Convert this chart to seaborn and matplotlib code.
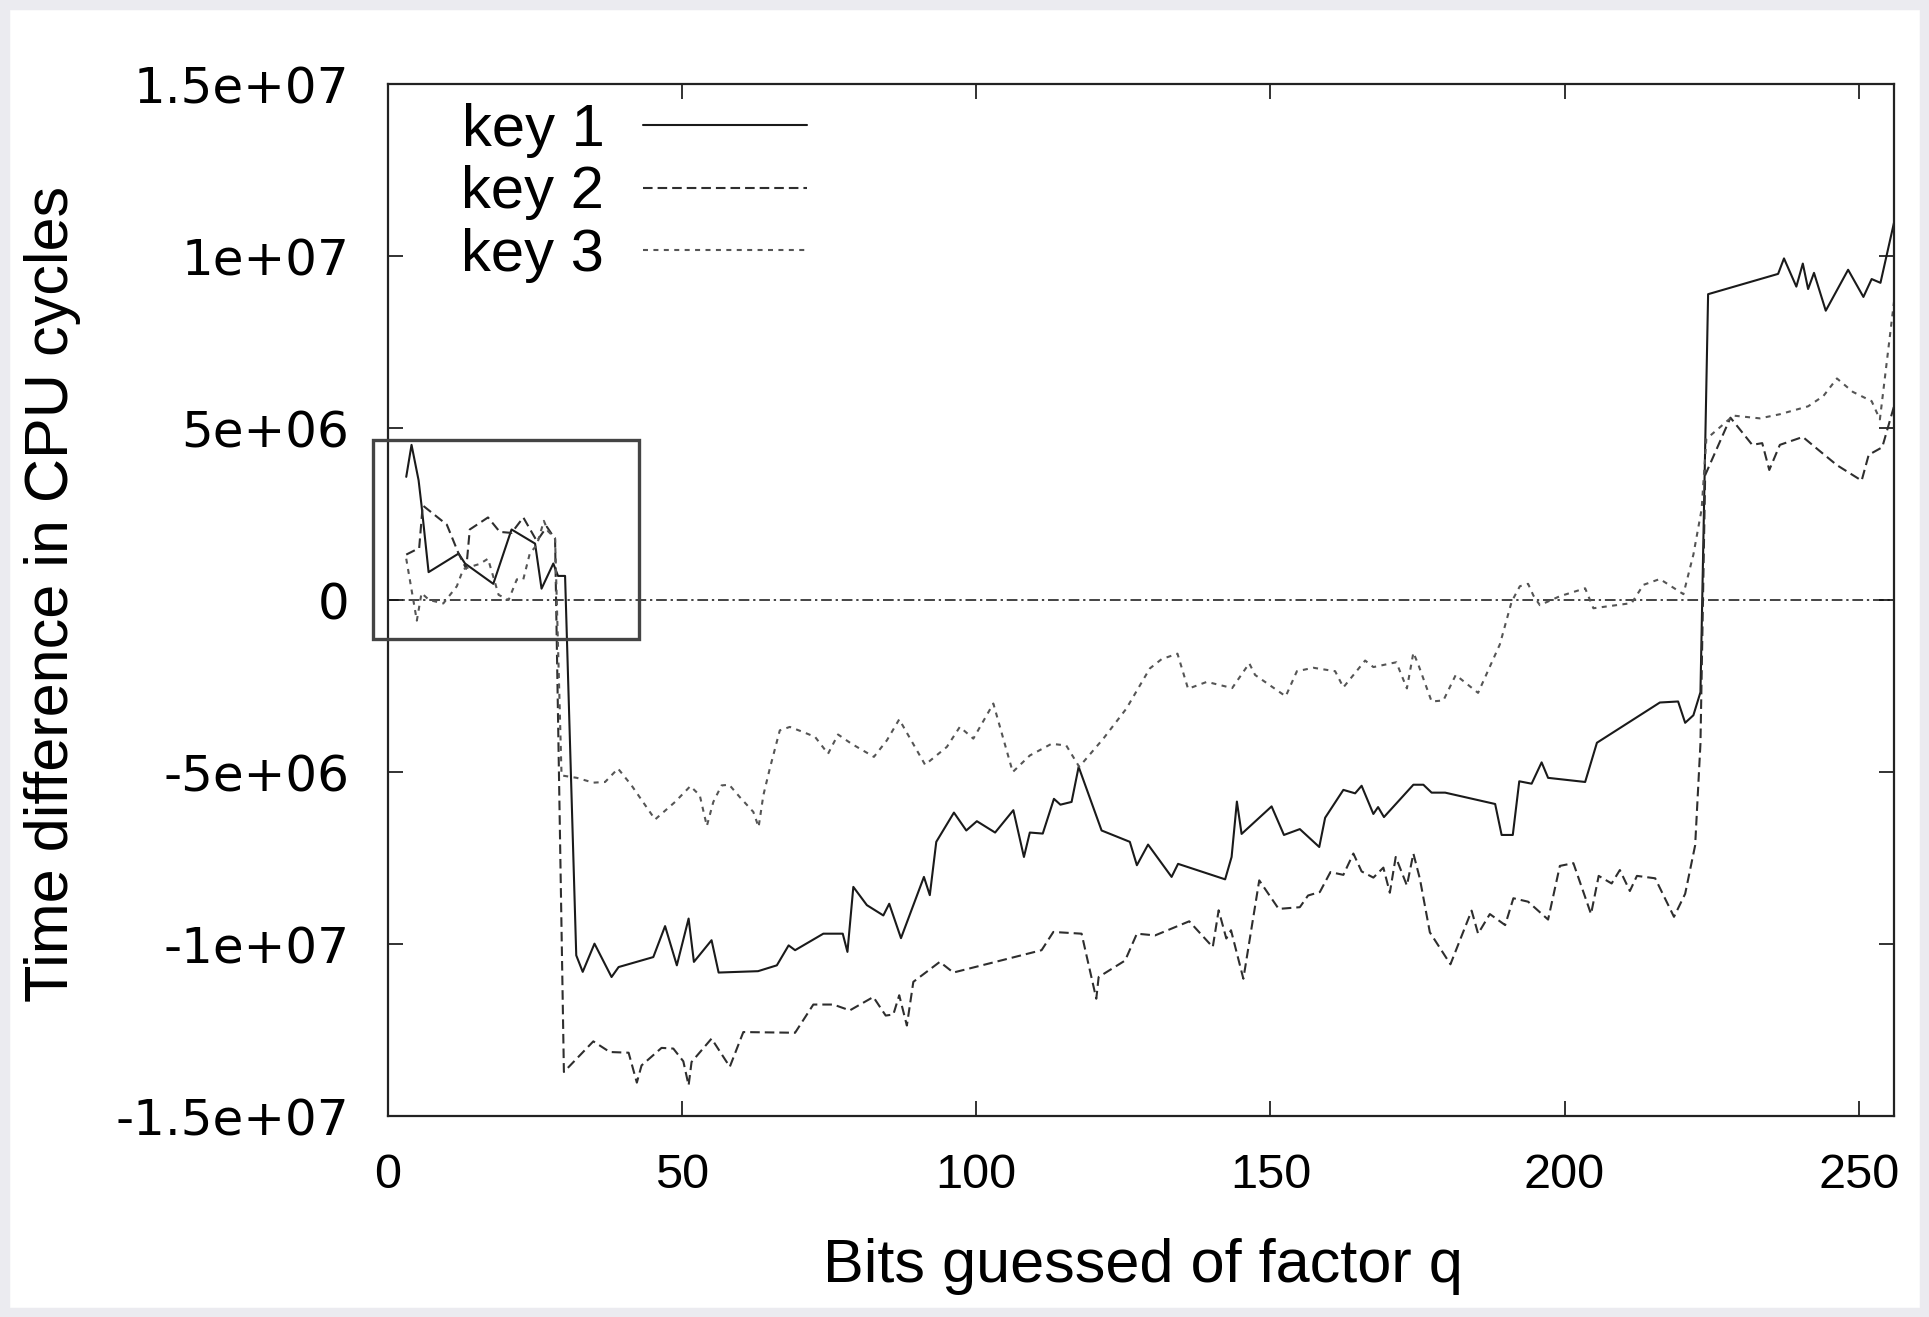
import matplotlib
matplotlib.use("Agg")
import matplotlib.pyplot as plt
from matplotlib.patches import Rectangle
from matplotlib.lines import Line2D
import seaborn as sns
import pandas as pd

# ---------------- data ----------------
key1_bits = [3.1, 4.0, 5.2, 5.7, 6.9, 12.0, 13.1, 17.9, 21.0, 25.0, 26.1, 28.1, 28.9, 30.1,
             32.0, 33.1, 35.1, 38.0, 39.2, 45.1, 47.1, 49.1, 51.1, 52.0, 55.0, 56.2, 62.9,
             66.1, 68.1, 69.2, 74.0, 77.3, 78.1, 79.1, 81.4, 84.2, 85.2, 87.2, 91.1, 92.1,
             93.2, 96.2, 98.3, 100.1, 103.2, 106.3, 108.1, 109.1, 111.3, 113.2, 114.3, 116.2,
             117.4, 121.3, 126.1, 127.3, 129.2, 133.2, 134.3, 142.3, 143.4, 144.3, 145.1,
             150.2, 152.3, 155.0, 158.3, 159.3, 162.4, 164.4, 165.5, 167.5, 168.3, 169.3,
             174.3, 176.0, 177.4, 179.7, 188.2, 189.3, 191.2, 192.3, 194.4, 196.1, 197.2,
             203.5, 205.5, 216.2, 219.3, 220.5, 221.9, 223.1, 224.4, 236.3, 237.3, 239.4,
             240.5, 241.4, 242.4, 244.4, 248.2, 250.8, 252.2, 253.7, 256.0]
key1_vals = [3.58e6, 4.51e6, 3.48e6, 2.75e6, 0.81e6, 1.35e6, 1.06e6, 0.47e6, 2.05e6, 1.64e6,
             0.33e6, 1.06e6, 0.70e6, 0.70e6,
             -10.33e6, -10.81e6, -9.99e6, -10.96e6, -10.67e6, -10.38e6, -9.48e6, -10.62e6,
             -9.26e6, -10.52e6, -9.89e6, -10.83e6, -10.79e6, -10.62e6, -10.04e6, -10.18e6,
             -9.70e6, -9.70e6, -10.23e6, -8.34e6, -8.87e6, -9.17e6, -8.83e6, -9.83e6,
             -8.05e6, -8.58e6, -7.03e6, -6.18e6, -6.70e6, -6.43e6, -6.76e6, -6.11e6,
             -7.47e6, -6.76e6, -6.79e6, -5.78e6, -5.95e6, -5.87e6, -4.85e6, -6.70e6,
             -7.03e6, -7.71e6, -7.11e6, -8.05e6, -7.67e6, -8.12e6, -7.47e6, -5.86e6,
             -6.80e6, -6.00e6, -6.83e6, -6.66e6, -7.18e6, -6.33e6, -5.52e6, -5.62e6,
             -5.40e6, -6.22e6, -6.02e6, -6.31e6, -5.37e6, -5.37e6, -5.60e6, -5.60e6,
             -5.93e6, -6.83e6, -6.83e6, -5.27e6, -5.34e6, -4.72e6, -5.17e6, -5.29e6,
             -4.15e6, -2.98e6, -2.95e6, -3.57e6, -3.35e6, -2.68e6, 8.89e6, 9.48e6, 9.93e6,
             9.11e6, 9.78e6, 9.04e6, 9.51e6, 8.41e6, 9.60e6, 8.81e6, 9.33e6, 9.22e6, 10.97e6]

key2_bits = [3.1, 5.3, 5.9, 10.0, 12.0, 13.3, 13.9, 17.0, 19.0, 21.0, 23.0, 25.3, 27.0, 28.4,
             29.9, 34.9, 37.7, 40.9, 42.3, 43.1, 46.5, 48.5, 50.2, 51.1, 51.6, 55.0, 58.1,
             60.4, 69.2, 72.3, 75.7, 78.5, 82.5, 84.6, 85.9, 86.9, 88.2, 89.3, 93.8, 96.1,
             111.1, 113.1, 117.9, 120.4, 120.8, 125.3, 127.3, 130.4, 136.2, 140.2, 141.2,
             142.5, 143.3, 145.4, 148.1, 151.4, 155.0, 156.4, 158.4, 160.2, 162.4, 164.1,
             165.5, 167.5, 169.2, 170.3, 171.3, 173.2, 174.3, 175.4, 177.1, 180.6, 184.2,
             185.3, 187.3, 189.9, 191.3, 193.8, 197.2, 199.2, 201.5, 204.5, 205.8, 208.0,
             209.4, 211.1, 212.3, 215.4, 218.6, 220.5, 222.2, 223.1, 223.9, 228.2, 231.9,
             233.6, 234.8, 236.6, 240.5, 243.1, 246.3, 250.5, 251.7, 254.0, 256.0]
key2_vals = [1.32e6, 1.51e6, 2.75e6, 2.19e6, 1.35e6, 0.91e6, 2.05e6, 2.40e6, 1.98e6, 1.95e6,
             2.40e6, 1.71e6, 2.13e6, 1.77e6,
             -13.72e6, -12.83e6, -13.14e6, -13.16e6, -14.03e6, -13.53e6, -13.02e6, -13.04e6,
             -13.41e6, -14.11e6, -13.43e6, -12.75e6, -13.57e6, -12.56e6, -12.58e6, -11.76e6,
             -11.76e6, -11.93e6, -11.54e6, -12.08e6, -12.05e6, -11.49e6, -12.37e6, -11.10e6,
             -10.52e6, -10.83e6, -10.18e6, -9.65e6, -9.70e6, -11.59e6, -10.96e6, -10.48e6,
             -9.70e6, -9.75e6, -9.34e6, -10.09e6, -9.02e6, -9.84e6, -9.60e6, -11.01e6,
             -8.15e6, -8.98e6, -8.93e6, -8.59e6, -8.49e6, -7.91e6, -7.99e6, -7.37e6,
             -7.89e6, -8.07e6, -7.78e6, -8.51e6, -7.47e6, -8.30e6, -7.37e6, -8.10e6,
             -9.66e6, -10.59e6, -9.03e6, -9.70e6, -9.13e6, -9.45e6, -8.67e6, -8.77e6,
             -9.29e6, -7.73e6, -7.65e6, -9.13e6, -8.02e6, -8.24e6, -7.85e6, -8.46e6,
             -8.02e6, -8.09e6, -9.21e6, -8.54e6, -7.13e6, -4.17e6, 3.63e6, 5.30e6, 4.51e6,
             4.56e6, 3.78e6, 4.51e6, 4.74e6, 4.37e6, 3.92e6, 3.47e6, 4.22e6, 4.44e6, 5.63e6]

key3_bits = [3.1, 4.0, 4.9, 5.7, 7.0, 9.4, 11.7, 12.8, 15.6, 17.0, 18.8, 20.5, 21.9, 23.0,
             24.1, 25.3, 26.5, 27.2, 28.4, 29.5, 32.1, 34.9, 36.9, 39.1, 41.4, 45.4, 48.8,
             51.4, 53.0, 54.2, 55.3, 56.7, 58.0, 59.8, 62.1, 63.0, 63.8, 64.9, 66.6, 68.3,
             70.6, 72.6, 74.8, 76.5, 78.8, 82.6, 84.8, 86.9, 91.3, 95.0, 97.2, 99.5, 102.9,
             106.2, 109.1, 112.8, 115.3, 117.5, 121.6, 125.5, 129.5, 131.5, 134.2, 136.0,
             139.2, 143.5, 146.4, 147.4, 152.6, 154.5, 157.3, 161.0, 162.4, 166.1, 167.5,
             171.4, 173.2, 174.3, 175.1, 177.4, 179.4, 181.5, 185.3, 189.0, 191.0, 192.4,
             193.8, 194.7, 195.8, 199.2, 203.5, 204.9, 211.4, 213.4, 216.2, 220.2, 221.9,
             223.3, 224.1, 228.7, 233.2, 236.6, 241.4, 244.0, 246.3, 249.0, 252.2, 253.6,
             256.0]
key3_vals = [1.20e6, 0.30e6, -0.60e6, 0.20e6, 0.00e6, -0.10e6, 0.40e6, 0.90e6, 1.05e6,
             1.20e6, 0.15e6, 0.00e6, 0.60e6, 0.60e6, 1.35e6, 1.60e6, 2.30e6, 2.00e6, 1.80e6,
             -5.10e6, -5.17e6, -5.31e6, -5.29e6, -4.90e6, -5.39e6, -6.38e6, -5.87e6, -5.41e6,
             -5.68e6, -6.57e6, -5.87e6, -5.39e6, -5.37e6, -5.73e6, -6.16e6, -6.60e6, -5.68e6,
             -4.90e6, -3.79e6, -3.69e6, -3.84e6, -3.98e6, -4.47e6, -3.91e6, -4.18e6,
             -4.56e6, -4.08e6, -3.47e6, -4.79e6, -4.27e6, -3.69e6, -4.03e6, -3.01e6,
             -5.00e6, -4.52e6, -4.18e6, -4.23e6, -4.85e6, -4.03e6, -3.16e6, -1.99e6,
             -1.72e6, -1.56e6, -2.58e6, -2.38e6, -2.56e6, -1.84e6, -2.18e6, -2.80e6,
             -2.07e6, -1.97e6, -2.07e6, -2.54e6, -1.76e6, -1.95e6, -1.81e6, -2.57e6,
             -1.53e6, -1.86e6, -2.95e6, -2.92e6, -2.18e6, -2.70e6, -1.29e6, -0.05e6,
             0.40e6, 0.47e6, 0.13e6, -0.15e6, 0.11e6, 0.34e6, -0.24e6, -0.09e6, 0.44e6,
             0.61e6, 0.17e6, 1.32e6, 2.64e6, 4.68e6, 5.36e6, 5.28e6, 5.40e6, 5.63e6,
             5.93e6, 6.44e6, 6.05e6, 5.78e6, 5.25e6, 8.67e6]

key_names = ["key 1", "key 2", "key 3"]
y_ticks = [-1.5e7, -1e7, -5e6, 0, 5e6, 1e7, 1.5e7]
y_tick_labels = ["-1.5e+07", "-1e+07", "-5e+06", "0", "5e+06", "1e+07", "1.5e+07"]
x_ticks = [0, 50, 100, 150, 200, 250]
x_tick_labels = ["0", "50", "100", "150", "200", "250"]

# ---------------- figure ----------------
sns.set_theme(style="white")
plt.rcParams["font.family"] = ["Liberation Sans", "DejaVu Sans"]

W, H = 1929, 1317
fig = plt.figure(figsize=(W / 100, H / 100), dpi=100, facecolor="white")
ax = fig.add_axes([388 / W, 1 - 1116 / H, (1894 - 388) / W, (1116 - 84) / H])

df = pd.concat([
    pd.DataFrame({"bit": key1_bits, "diff": key1_vals, "key": key_names[0]}),
    pd.DataFrame({"bit": key2_bits, "diff": key2_vals, "key": key_names[1]}),
    pd.DataFrame({"bit": key3_bits, "diff": key3_vals, "key": key_names[2]}),
], ignore_index=True)

palette = {"key 1": "#1a1a1a", "key 2": "#2e2e2e", "key 3": "#555555"}
dashes = {"key 1": "", "key 2": (4.6, 2.4), "key 3": (2.4, 2.6)}
sns.lineplot(data=df, x="bit", y="diff", hue="key", style="key", palette=palette,
             dashes=dashes, estimator=None, sort=False, linewidth=1.5, ax=ax, legend=False)

# zero reference line
ax.axhline(0, color="#111111", lw=1.1, linestyle=(0, (7, 2.5, 1.5, 2.5)), zorder=1)

# highlight rectangle (extends beyond the left axis)
ax.add_patch(Rectangle((-2.6, -1.13e6), 45.2, 5.78e6, fill=False, edgecolor="#444444",
                       lw=2.4, clip_on=False, zorder=5))

ax.set_xlim(0, 256)
ax.set_ylim(-1.5e7, 1.5e7)
ax.set_xticks(x_ticks)
ax.set_xticklabels(x_tick_labels)
ax.set_yticks(y_ticks)
ax.set_yticklabels(y_tick_labels)

for s in ax.spines.values():
    s.set_visible(True)
    s.set_color("#222222")
    s.set_linewidth(1.6)

ax.tick_params(axis="both", which="major", direction="in", length=11, width=1.3,
               color="#222222", top=True, right=True, bottom=True, left=True)
ax.tick_params(axis="x", labelsize=35, pad=27, labelcolor="#000000")
ax.tick_params(axis="y", labelsize=35, pad=28, labelcolor="#000000")
for lab in ax.get_yticklabels():
    lab.set_fontfamily(["DejaVu Sans"])
    lab.set_fontsize(36)

ax.set_xlabel("Bits guessed of factor q", fontsize=44, color="#000000")
ax.set_ylabel("Time difference in CPU cycles", fontsize=44, color="#000000")
ax.xaxis.label.set_va("center")
ax.yaxis.label.set_va("center")
ax.xaxis.set_label_coords(0.501, -0.1463)
ax.yaxis.set_label_coords(-0.2231, 0.5058)

handles = [Line2D([], [], color=palette[k], lw=1.5,
                  linestyle="-" if k == "key 1" else (0, dashes[k])) for k in key_names]
leg = ax.legend(handles, key_names, loc="upper left", bbox_to_anchor=(0.025, 1.016),
                frameon=False, markerfirst=False, fontsize=43, handlelength=2.75,
                handletextpad=0.65, labelspacing=0.12, borderaxespad=0.2)
for t in leg.get_texts():
    t.set_color("#000000")

# light gray outer frame of the picture
fig.patches.append(Rectangle((0, 0), 1, 1, transform=fig.transFigure, fill=False,
                             edgecolor="#ebebf0", lw=14, zorder=0))

fig.savefig("out.png", dpi=100, facecolor="white")
